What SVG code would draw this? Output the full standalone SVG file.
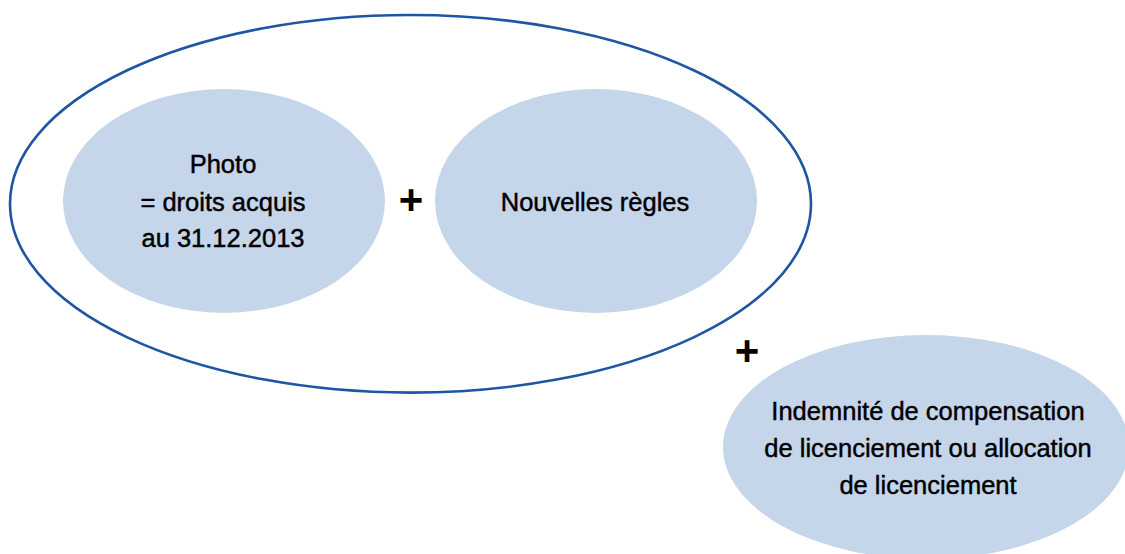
<svg xmlns="http://www.w3.org/2000/svg" width="1125" height="554" viewBox="0 0 1125 554">
  <style>
    .bubble { fill: #c5d5ea; stroke: none; }
    .outer { fill: none; stroke: #1f56a3; stroke-width: 2.6; }
    .label { font-family: "Liberation Sans", Arial, sans-serif; font-size: 25.5px; fill: #000; stroke: #000; stroke-width: 0.45; text-anchor: middle; }
    .plus { font-family: "Liberation Sans", Arial, sans-serif; font-size: 42px; font-weight: bold; fill: #000; text-anchor: middle; }
  </style>
  <rect width="1125" height="554" fill="#ffffff"/>
  <g id="group-outer">
    <ellipse class="outer" cx="410.5" cy="203.8" rx="400.5" ry="188.8"/>
  </g>
  <g id="node-photo">
    <ellipse class="bubble" cx="224" cy="201" rx="161" ry="112"/>
    <text class="label" x="223" y="173">Photo</text>
    <text class="label" x="223" y="211">= droits acquis</text>
    <text class="label" x="223" y="247">au 31.12.2013</text>
  </g>
  <g id="node-regles">
    <ellipse class="bubble" cx="596" cy="201" rx="161" ry="112"/>
    <text class="label" x="595" y="211">Nouvelles règles</text>
  </g>
  <g id="node-indemnite">
    <ellipse class="bubble" cx="926" cy="447" rx="203" ry="112"/>
    <text class="label" x="928" y="420">Indemnité de compensation</text>
    <text class="label" x="928" y="457">de licenciement ou allocation</text>
    <text class="label" x="928" y="494">de licenciement</text>
  </g>
  <g id="connectors">
    <text class="plus" x="411" y="213.5">+</text>
    <text class="plus" x="747" y="364.5">+</text>
  </g>
</svg>
